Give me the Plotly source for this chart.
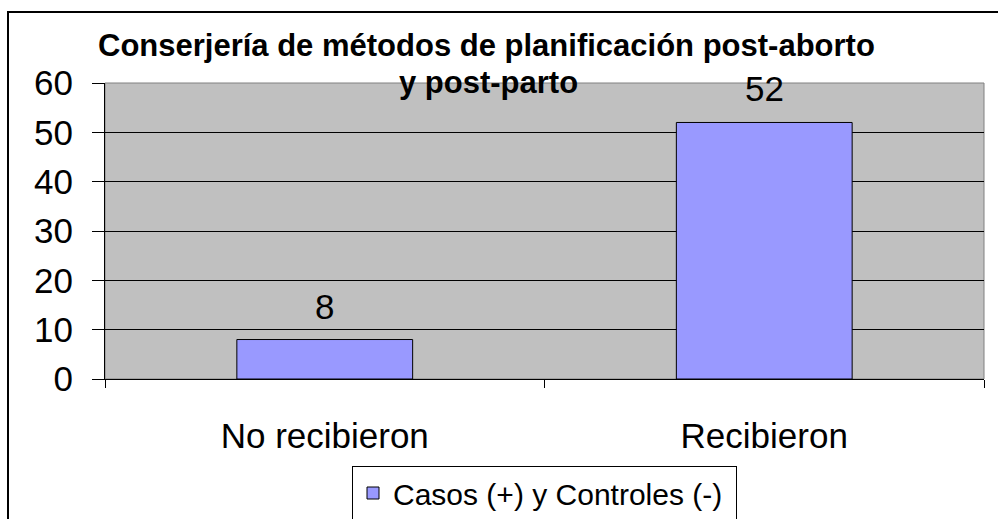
import plotly.graph_objects as go

categories = ["No recibieron", "Recibieron"]
values = [8, 52]
series_name = "Casos (+) y Controles (-)"
title_line1 = "Conserjería de métodos de planificación post-aborto"
title_line2 = "y post-parto"
y_ticks = [0, 10, 20, 30, 40, 50, 60]

W, H = 998, 519
L, R, T, B = 105, 14, 83, 140
pw = W - L - R
ph = H - T - B

def px_x(p):
    return (p - L) / pw

def px_y(p):
    return (H - B - p) / ph

FONT = "Liberation Sans, Arial, sans-serif"

fig = go.Figure()
fig.add_trace(go.Bar(
    x=categories, y=values, name=series_name, width=0.4,
    marker=dict(color="#9999FF", line=dict(color="black", width=1)),
    showlegend=True,
))

for c, v in zip(categories, values):
    fig.add_annotation(x=c, y=v, text=str(v), showarrow=False, yanchor="bottom",
                       yshift=12, font=dict(size=35, color="black", family=FONT))

fig.add_annotation(x=px_x(486), y=px_y(45), xref="paper", yref="paper", text="<b>%s</b>" % title_line1,
                   showarrow=False, xanchor="center", yanchor="middle",
                   font=dict(size=31, color="black", family=FONT))
fig.add_annotation(x=px_x(488), y=px_y(82), xref="paper", yref="paper", text="<b>%s</b>" % title_line2,
                   showarrow=False, xanchor="center", yanchor="middle",
                   font=dict(size=31, color="black", family=FONT))

# outer frame
fig.add_shape(type="rect", xref="paper", yref="paper",
              x0=px_x(8), x1=px_x(1003), y0=px_y(530), y1=px_y(12),
              line=dict(color="black", width=2), layer="below")
# plot area border
fig.add_shape(type="rect", xref="paper", yref="paper", x0=0, x1=1, y0=0, y1=1,
              line=dict(color="#808080", width=1), layer="below")

fig.update_layout(
    width=W, height=H,
    margin=dict(l=L, r=R, t=T, b=B, pad=0, autoexpand=False),
    paper_bgcolor="white", plot_bgcolor="#C0C0C0",
    font=dict(family=FONT, color="black", size=35),
    bargap=0.6,
    legend=dict(orientation="h", x=px_x(352), xanchor="left", y=px_y(466), yanchor="top",
                bordercolor="black", borderwidth=1, bgcolor="white", entrywidth=338,
                font=dict(size=30, color="black", family=FONT)),
)
fig.update_yaxes(range=[0, 60], tickvals=y_ticks, showgrid=True, gridcolor="black", gridwidth=1,
                 zeroline=False, showline=True, linecolor="black", linewidth=1,
                 ticks="outside", ticklen=12, tickcolor="black", ticklabelstandoff=12,
                 tickfont=dict(size=35), automargin=False)
fig.update_xaxes(showline=True, linecolor="black", linewidth=1, ticks="outside",
                 tickson="boundaries", ticklen=8, tickcolor="black", ticklabelstandoff=26,
                 tickfont=dict(size=35), automargin=False)

fig.write_html("out.html", config={"displayModeBar": False},
               post_script="document.body.style.margin='0';document.body.style.overflow='hidden';")
